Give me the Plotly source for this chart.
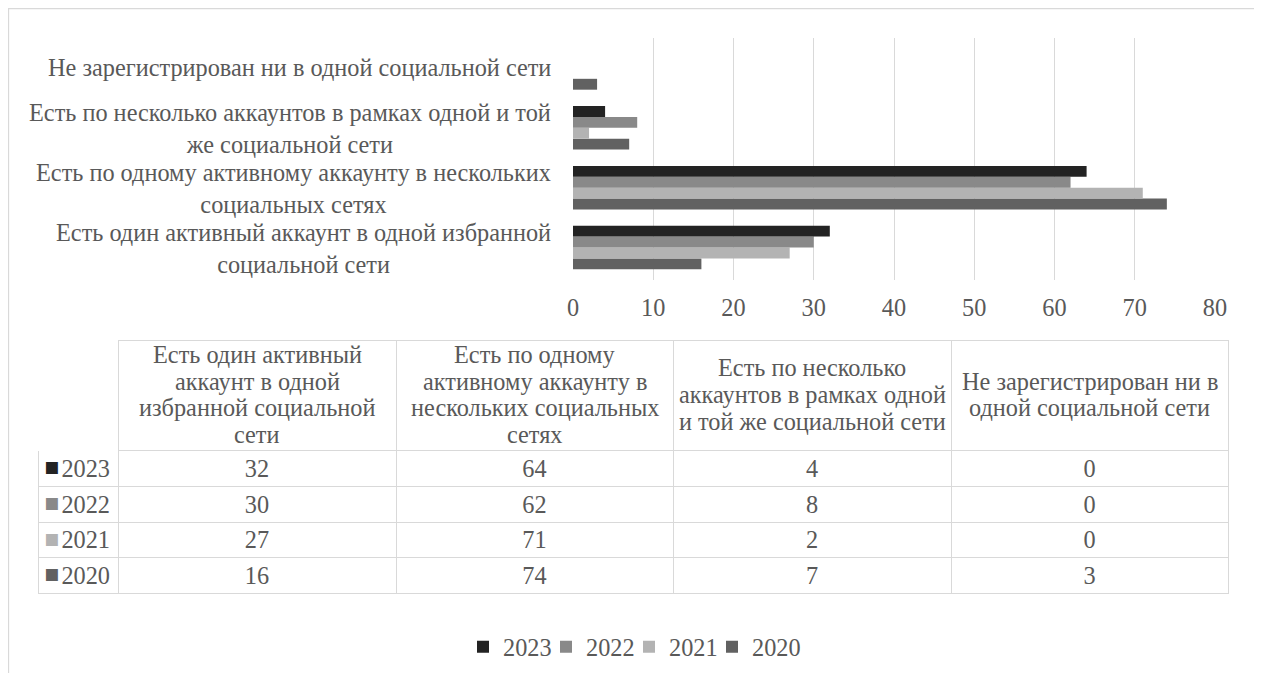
import plotly.graph_objects as go

categories = [
    "Есть один активный аккаунт в одной избранной социальной сети",
    "Есть по одному активному аккаунту в нескольких социальных сетях",
    "Есть по несколько аккаунтов в рамках одной и той же социальной сети",
    "Не зарегистрирован ни в одной социальной сети",
]
axis_labels = [
    "Есть один активный аккаунт в одной избранной<br>социальной сети",
    "Есть по одному активному аккаунту в нескольких<br>социальных сетях",
    "Есть по несколько аккаунтов в рамках одной и той<br>же социальной сети",
    "Не зарегистрирован ни в одной социальной сети",
]
header_labels = [
    "Есть один активный<br>аккаунт в одной<br>избранной социальной<br>сети",
    "Есть по одному<br>активному аккаунту в<br>нескольких социальных<br>сетях",
    "Есть по несколько<br>аккаунтов в рамках одной<br>и той же социальной сети",
    "Не зарегистрирован ни в<br>одной социальной сети",
]
years = ["2023", "2022", "2021", "2020"]
values = {
    "2023": [32, 64, 4, 0],
    "2022": [30, 62, 8, 0],
    "2021": [27, 71, 2, 0],
    "2020": [16, 74, 7, 3],
}
colors = {"2023": "#232323", "2022": "#898989", "2021": "#b3b3b3", "2020": "#616161"}
x_ticks = [0, 10, 20, 30, 40, 50, 60, 70, 80]

FONT = "Liberation Serif"
TXT = "#595959"
GRID = "#d9d9d9"
FS = 24.3
HIDDEN = "rgba(0,0,0,0)"

# the page body has an 8px margin: the figure starts 8px from the viewport corner
OFF = 8
W, H = 1254, 665


def px(x):
    return (x - OFF) / W


def py(y):
    return 1 - (y - OFF) / H


# table geometry (viewport px)
T_LEFT, T_TOP = 38, 340
col_w = [80, 278, 277, 278, 277]
HEADER_H = 110.7
ROW_H = 35.7
HEADER_LINE = 26.7

fig = go.Figure()
# spacer legend entry (keeps the last legend label from being clipped)
fig.add_trace(go.Scatter(
    x=[None], y=[None], mode="markers", name=" ",
    marker=dict(color=HIDDEN, size=1), hoverinfo="skip",
))
for y in reversed(years):
    fig.add_trace(go.Bar(
        name=y, y=categories, x=values[y], orientation="h",
        marker=dict(color=colors[y], line=dict(width=0)),
    ))

# category labels: centred multi-line blocks, right edge next to the plot
for cat, lab in zip(categories, axis_labels):
    fig.add_annotation(
        x=0, xref="x domain", y=cat, yref="y", text=lab, showarrow=False,
        xanchor="right", yanchor="middle", align="center", xshift=-20,
        yshift=0 if "<br>" not in lab else -1,
        font=dict(family=FONT, size=FS, color=TXT),
    )

# main data table
cols = [years] + [[values[y][i] for y in years] for i in range(len(categories))]
t_right = T_LEFT + sum(col_w)
fig.add_trace(go.Table(
    domain=dict(x=[px(T_LEFT), px(t_right)], y=[py(640), py(T_TOP)]),
    columnwidth=col_w,
    header=dict(
        values=[""] * 5,
        height=HEADER_H,
        fill=dict(color="white"),
        line=dict(color=["white", GRID, GRID, GRID, GRID], width=1),
        font=dict(family=FONT, size=FS, color=TXT),
    ),
    cells=dict(
        values=cols,
        align=["right", "center", "center", "center", "center"],
        height=ROW_H,
        fill=dict(color="white"),
        line=dict(color=GRID, width=1),
        font=dict(family=FONT, size=FS, color=TXT),
    ),
))

# legend keys in the first column of the table
fig.add_trace(go.Table(
    domain=dict(x=[px(T_LEFT), px(T_LEFT + 28)], y=[py(640), py(T_TOP + 2)]),
    header=dict(values=[""], height=HEADER_H,
                fill=dict(color=HIDDEN), line=dict(color=HIDDEN)),
    cells=dict(
        values=[["■"] * len(years)],
        align="center", height=ROW_H,
        fill=dict(color=HIDDEN), line=dict(color=HIDDEN),
        font=dict(family="DejaVu Sans", size=15.5, color=[[colors[y] for y in years]]),
    ),
))

# header texts, centred in each header cell, one annotation per line
edges = [T_LEFT]
for w in col_w:
    edges.append(edges[-1] + w)
header_mid = T_TOP + HEADER_H / 2 - 1
for i, lab in enumerate(header_labels):
    cx = (edges[i + 1] + edges[i + 2]) / 2
    lines = lab.split("<br>")
    n = len(lines)
    for j, line in enumerate(lines):
        cy = header_mid + (j - (n - 1) / 2) * HEADER_LINE
        fig.add_annotation(
            x=px(cx), xref="paper", y=py(cy), yref="paper",
            text=line, showarrow=False, xanchor="center", yanchor="middle",
            font=dict(family=FONT, size=FS, color=TXT),
        )

fig.update_layout(
    width=W, height=H,
    margin=dict(l=0, r=0, t=0, b=0, autoexpand=False),
    paper_bgcolor="white", plot_bgcolor="white",
    barmode="group", bargap=0.273, bargroupgap=0,
    font=dict(family=FONT, size=FS, color=TXT),
    xaxis=dict(
        type="linear",
        domain=[px(573), px(1215)], range=[0, 80], tickvals=x_ticks,
        showgrid=True, gridcolor=GRID, gridwidth=1, zeroline=False,
        showline=False, ticks="", ticklabelstandoff=11, automargin=False,
        tickfont=dict(family=FONT, size=FS, color=TXT), fixedrange=True,
    ),
    yaxis=dict(
        type="category", categoryorder="array", categoryarray=categories,
        domain=[py(280), py(38)], showticklabels=False, automargin=False,
        showgrid=False, zeroline=False, showline=False, ticks="",
    ),
    legend=dict(
        orientation="h", x=px(463), xanchor="left", y=py(647), yanchor="middle",
        traceorder="reversed", font=dict(family=FONT, size=FS, color=TXT),
        itemwidth=30, entrywidth=38, entrywidthmode="pixels",
        bgcolor=HIDDEN,
    ),
    shapes=[dict(type="rect", xref="paper", yref="paper",
                 x0=0.5 / W, x1=px(1257), y0=-0.2, y1=1 - 0.5 / H,
                 line=dict(color=GRID, width=1.3), fillcolor="rgba(0,0,0,0)", layer="below")],
)

fig.write_html("out.html")
